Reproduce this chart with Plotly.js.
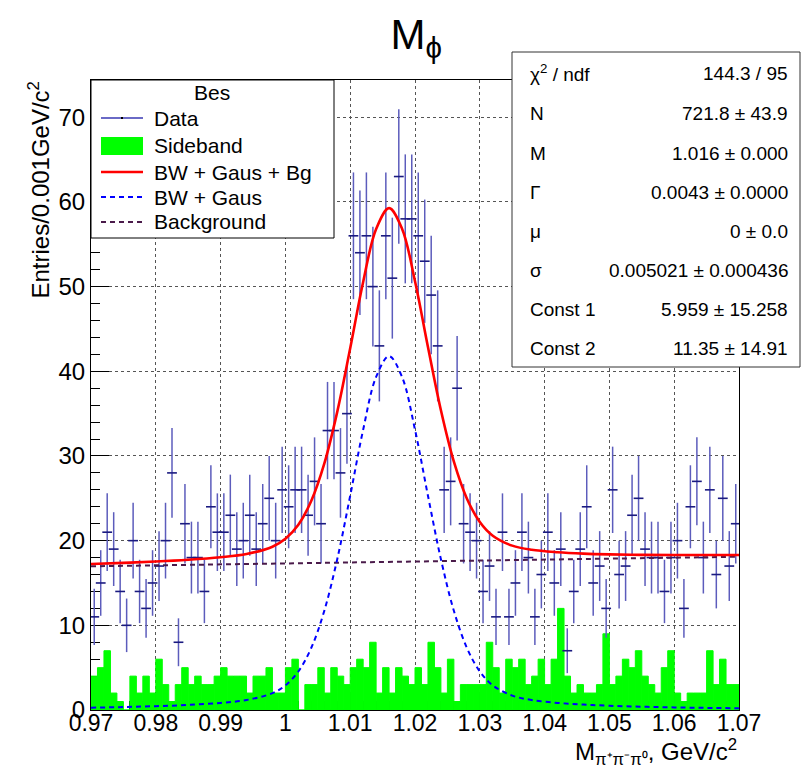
<!DOCTYPE html>
<html><head><meta charset="utf-8">
<script src="https://cdn.plot.ly/plotly-3.0.1.min.js"></script>
<style>body{margin:0;background:#fff}</style>
</head><body>
<div id="chart" style="width:805px;height:768px"></div>
<script>
// Histogram definition
const xLow = 0.97;
const binWidth = 0.001;

// Data counts per bin (100 bins, 0.97 - 1.07)
const dataCounts = [11,15,21,19,14,10,20,14,12,15,17,20,28,8,22,18,18,14,24,21,21,23,19,20,23,
  19,22,25,20,26,24,26,26,23,27,22,33,33,28,35,56,54,56,50,43,56,51,63,58,58,
  56,53,49,43,26,27,38,22,21,20,14,17,11,21,11,15,21,18,11,16,21,15,19,7,14,
  19,24,15,17,12,26,16,17,23,25,19,18,18,14,18,20,12,24,27,18,26,16,25,17,22];

// Sideband counts per bin
const sidebandCounts = [4,5,7,2,1,0,4,2,4,2,6,3,1,3,5,3,4,3,3,4,5,4,4,4,2,
  4,4,5,2,2,5,6,0,3,3,5,2,5,4,3,5,6,5,8,2,5,2,5,4,3,
  5,3,8,5,2,6,1,3,3,3,3,8,5,2,6,5,6,3,4,6,3,6,12,4,2,
  3,2,2,3,9,3,4,6,5,7,4,3,2,5,7,2,1,2,2,2,7,3,6,3,3];

// Fit curves
const fitX = [0.970,0.975,0.980,0.985,0.990,0.994,0.998,1.000,1.002,1.004,1.006,1.008,1.010,1.012,1.014,1.016,
  1.018,1.020,1.022,1.024,1.026,1.028,1.030,1.032,1.035,1.038,1.042,1.046,1.050,1.055,1.060,1.065,1.070];
const signalY = [0.28,0.35,0.45,0.60,0.84,1.18,1.99,2.91,4.55,7.35,11.71,17.81,25.30,33.10,39.33,41.78,
  39.33,33.10,25.30,17.81,11.71,7.35,4.55,2.91,1.70,1.18,0.84,0.64,0.50,0.39,0.31,0.25,0.21];
const totalY = [17.25,17.38,17.53,17.74,18.04,18.42,19.28,20.22,21.88,24.71,29.09,35.21,42.72,50.55,56.80,59.27,
  56.84,50.64,42.86,35.39,29.32,24.98,22.20,20.58,19.41,18.92,18.63,18.47,18.38,18.32,18.30,18.30,18.31];
const bgX = [0.970, 1.070];
const bgY = [16.97, 18.10];

// Tick labels
const xTickVals = [0.97,0.98,0.99,1.00,1.01,1.02,1.03,1.04,1.05,1.06,1.07];
const xTickText = ['0.97','0.98','0.99','1','1.01','1.02','1.03','1.04','1.05','1.06','1.07'];

// Legend entries
const legendTitle = 'Bes';
const legendNames = ['Data','Sideband','BW + Gaus + Bg','BW + Gaus','Background'];

// Stats box contents
const statNames = ['χ<sup>2</sup> / ndf','N','M','Γ','μ','σ','Const 1','Const 2'];
const statValues = ['144.3 / 95','721.8 ± 43.9','1.016 ± 0.000','0.0043 ± 0.0000','0 ± 0.0','0.005021 ± 0.000436','5.959 ± 15.258','11.35 ± 14.91'];

const colData = '#1a1a80', colErr = '#5c5cbc', colSide = '#00ff00', colTot = '#ff0000', colSig = '#0000ff', colBg = '#4a1a4a';

const binCenters = dataCounts.map((_, i) => +(xLow + binWidth * (i + 0.5)).toFixed(5));

const traces = [
  {type:'bar', x: binCenters, y: sidebandCounts, width: binWidth, name: legendNames[1],
   marker:{color: colSide, line:{width:1, color: colSide}}, hoverinfo:'skip'},
  {type:'scatter', mode:'markers', x: binCenters, y: dataCounts, name: legendNames[0],
   marker:{symbol:'line-ew', size:7, color: colData, line:{color: colData, width:1.6}},
   error_y:{type:'sqrt', visible:true, color: colErr, thickness:1.5, width:0}},
  {type:'scatter', mode:'lines', x: bgX, y: bgY, name: legendNames[4],
   line:{color: colBg, width:2, dash:'5px,4px'}},
  {type:'scatter', mode:'lines', x: fitX, y: signalY, name: legendNames[3],
   line:{color: colSig, width:2, dash:'5px,4px', shape:'spline'}},
  {type:'scatter', mode:'lines', x: fitX, y: totalY, name: legendNames[2],
   line:{color: colTot, width:2.6, shape:'spline'}}
];

const px2x = p => (p - 91) / 648;
const px2y = p => (710 - p) / 630;

const annotations = [];
const shapes = [];

// Stats box
shapes.push({type:'rect', xref:'paper', yref:'paper', x0:px2x(512), x1:px2x(800), y0:px2y(367), y1:px2y(52),
  line:{color:'#333', width:1}, fillcolor:'#fff', layer:'above'});
const rowY = [73,113,153,192,231,270,309,348];
statNames.forEach((n, i) => {
  annotations.push({xref:'paper', yref:'paper', x: px2x(528), y: px2y(rowY[i]), xanchor:'left', yanchor:'middle',
    text: n, showarrow:false, font:{size:19, color:'#000'}});
  annotations.push({xref:'paper', yref:'paper', x: px2x(790), y: px2y(rowY[i]), xanchor:'right', yanchor:'middle',
    text: statValues[i], showarrow:false, font:{size:19, color:'#000'}});
});

// Legend box (drawn by hand to match ROOT's TLegend layout)
shapes.push({type:'rect', xref:'paper', yref:'paper', x0:px2x(91), x1:px2x(334), y0:px2y(238), y1:px2y(80),
  line:{color:'#000', width:1}, fillcolor:'#fff', layer:'above'});
annotations.push({xref:'paper', yref:'paper', x: px2x(212), y: px2y(92), xanchor:'center', yanchor:'middle',
  text: legendTitle, showarrow:false, font:{size:21, color:'#000'}});
const legY = [118,146,172,197,222];
const sx0 = px2x(101), sx1 = px2x(143);
shapes.push({type:'line', xref:'paper', yref:'paper', x0:sx0, x1:sx1, y0:px2y(legY[0]), y1:px2y(legY[0]),
  line:{color:'#6a6ac6', width:2}, layer:'above'});
shapes.push({type:'rect', xref:'paper', yref:'paper', x0:px2x(121), x1:px2x(123), y0:px2y(119), y1:px2y(117),
  line:{color:'#000', width:0}, fillcolor:'#000', layer:'above'});
shapes.push({type:'rect', xref:'paper', yref:'paper', x0:sx0, x1:sx1, y0:px2y(legY[1]+9), y1:px2y(legY[1]-9),
  line:{width:0}, fillcolor: colSide, layer:'above'});
shapes.push({type:'line', xref:'paper', yref:'paper', x0:sx0, x1:sx1, y0:px2y(legY[2]), y1:px2y(legY[2]),
  line:{color: colTot, width:2.5}, layer:'above'});
shapes.push({type:'line', xref:'paper', yref:'paper', x0:sx0, x1:sx1, y0:px2y(legY[3]), y1:px2y(legY[3]),
  line:{color: colSig, width:2, dash:'5px,4px'}, layer:'above'});
shapes.push({type:'line', xref:'paper', yref:'paper', x0:sx0, x1:sx1, y0:px2y(legY[4]), y1:px2y(legY[4]),
  line:{color: colBg, width:2, dash:'5px,4px'}, layer:'above'});
legendNames.forEach((n, i) => {
  annotations.push({xref:'paper', yref:'paper', x: px2x(152), y: px2y(legY[i]), xanchor:'left', yanchor:'middle',
    text: n, showarrow:false, font:{size:21, color:'#000'}});
});

// Axis titles (ROOT places them at the axis ends)
annotations.push({xref:'paper', yref:'paper', x: px2x(38), y: 1, xanchor:'center', yanchor:'top',
  textangle:-90, text:'Entries/0.001GeV/c<sup>2</sup>', showarrow:false, font:{size:24, color:'#000'}});
annotations.push({xref:'paper', yref:'paper', x: 1, y: px2y(752), xanchor:'right', yanchor:'middle',
  text:'M<sub>π⁺π⁻π⁰</sub>, GeV/c<sup>2</sup>', showarrow:false, font:{size:24, color:'#000'}});

const layout = {
  width:805, height:768,
  margin:{l:91, r:66, t:80, b:58},
  paper_bgcolor:'#fff', plot_bgcolor:'#fff',
  font:{family:'"Liberation Sans", Arial, sans-serif', color:'#000', size:22},
  title:{text:'M<sub>ϕ</sub>', x:0.517, xanchor:'center', y:0.955, yanchor:'middle', font:{size:42, color:'#000'}},
  showlegend:false,
  xaxis:{range:[0.97,1.07], tickmode:'array', tickvals:xTickVals, ticktext:xTickText,
    ticks:'inside', ticklen:18, tickcolor:'#000', showline:true, linecolor:'#000', linewidth:1, mirror:true,
    showgrid:true, gridcolor:'#555', griddash:'dot', gridwidth:1, zeroline:false,
    minor:{dtick:0.002, ticks:'inside', ticklen:9, tickcolor:'#000', showgrid:false},
    tickfont:{size:23}, ticklabelstandoff:-8, layer:'below traces'},
  yaxis:{range:[0,74.4], tick0:0, dtick:10,
    ticks:'inside', ticklen:18, tickcolor:'#000', showline:true, linecolor:'#000', linewidth:1, mirror:true,
    showgrid:true, gridcolor:'#555', griddash:'dot', gridwidth:1, zeroline:false,
    minor:{dtick:2, ticks:'inside', ticklen:9, tickcolor:'#000', showgrid:false},
    tickfont:{size:24}, ticklabelstandoff:0, layer:'below traces'},
  shapes: shapes,
  annotations: annotations
};

Plotly.newPlot('chart', traces, layout, {displayModeBar:false, staticPlot:true});
</script>
</body></html>
